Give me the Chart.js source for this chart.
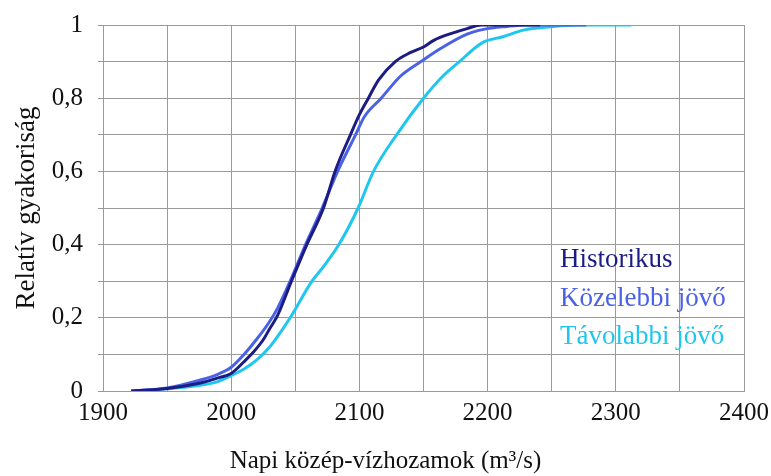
<!DOCTYPE html>
<html>
<head>
<meta charset="utf-8">
<script src="https://cdn.jsdelivr.net/npm/chart.js@4.4.1/dist/chart.umd.min.js"></script>
<style>
html, body { margin: 0; padding: 0; background: #fff; }
</style>
</head>
<body>
<canvas id="myChart" width="771" height="476"></canvas>
<script>
var seriesNames = ['Historikus', 'Közelebbi jövő', 'Távolabbi jövő'];
var seriesColors = ['#1c1c82', '#4a62e6', '#20c6ee'];

var histX = [1922, 1950, 1976, 1989, 2000, 2010, 2017, 2025, 2030, 2036, 2047, 2059, 2072, 2081, 2093, 2100, 2107, 2115, 2128, 2140, 2150, 2158, 2170, 2184, 2195, 2241];
var histY = [0, 0.007, 0.022, 0.035, 0.048, 0.08, 0.105, 0.14, 0.17, 0.205, 0.3, 0.4, 0.5, 0.6, 0.7, 0.755, 0.8, 0.85, 0.9, 0.925, 0.94, 0.958, 0.975, 0.99, 1, 1];

var kozelX = [1922, 1950, 1976, 1989, 2000, 2010, 2020, 2030, 2036, 2046, 2058, 2071, 2083, 2097, 2104, 2117, 2132, 2148, 2163, 2184, 2197, 2215, 2230, 2277];
var kozelY = [0, 0.008, 0.03, 0.045, 0.065, 0.1, 0.142, 0.19, 0.225, 0.3, 0.4, 0.5, 0.6, 0.7, 0.75, 0.8, 0.86, 0.9, 0.935, 0.975, 0.988, 0.996, 1, 1];

var tavX = [1925, 1950, 1976, 1989, 2000, 2010, 2020, 2030, 2036, 2046, 2063, 2072, 2084, 2099, 2111, 2129, 2150, 2165, 2178, 2196, 2212, 2228, 2249, 2270, 2312];
var tavY = [0, 0.006, 0.016, 0.025, 0.042, 0.06, 0.085, 0.12, 0.148, 0.2, 0.3, 0.34, 0.4, 0.5, 0.6, 0.7, 0.8, 0.86, 0.9, 0.952, 0.968, 0.986, 0.995, 1, 1];

var xLabels = [1900, 2000, 2100, 2200, 2300, 2400];
var yLabels = [0, 0.2, 0.4, 0.6, 0.8, 1];

function toPoints(xs, ys) {
    return xs.map(function(x, i) { return { x: x, y: ys[i] }; });
}

var allX = [histX, kozelX, tavX];
var allY = [histY, kozelY, tavY];

var serif = '"Liberation Serif", "Times New Roman", serif';
var gridColor = '#9a9a9a';

// legend drawn as coloured text inside the plot, no boxes
var textLegend = {
    id: 'textLegend',
    afterDatasetsDraw: function(chart) {
        var ctx = chart.ctx;
        var area = chart.chartArea;
        var x = area.left + 0.713 * (area.right - area.left);
        var y0 = area.top + 0.642 * (area.bottom - area.top);
        ctx.save();
        ctx.font = '27px ' + serif;
        ctx.textBaseline = 'middle';
        ctx.textAlign = 'left';
        chart.data.datasets.forEach(function(ds, i) {
            ctx.fillStyle = ds.borderColor;
            ctx.fillText(ds.label, x, y0 + i * 38.5);
        });
        ctx.restore();
    }
};

var options = {
    type: 'scatter',
    data: {
        datasets: seriesNames.map(function(name, i) {
            return {
                label: name,
                data: toPoints(allX[i], allY[i]),
                showLine: true,
                borderColor: seriesColors[i],
                backgroundColor: seriesColors[i],
                borderWidth: 3,
                pointRadius: 0,
                cubicInterpolationMode: 'monotone'
            };
        })
    },
    options: {
        responsive: false,
        animation: false,
        layout: { padding: { top: 25 } },
        plugins: {
            legend: { display: false },
            tooltip: { enabled: false },
            title: {
                display: true,
                position: 'bottom',
                text: 'Napi közép-vízhozamok (m³/s)',
                color: '#111',
                font: { family: serif, size: 25, weight: 'normal', lineHeight: 1.2 },
                padding: { top: 6, bottom: 0 }
            }
        },
        scales: {
            x: {
                type: 'linear',
                min: 1900,
                max: 2400,
                afterFit: function(s) {
                    s.height = 49;
                    s.paddingLeft = 0;
                    s.paddingRight = 27;
                },
                border: { color: gridColor },
                grid: { color: gridColor, drawTicks: false },
                ticks: {
                    stepSize: 50,
                    autoSkip: false,
                    maxRotation: 0,
                    padding: 7,
                    color: '#111',
                    font: { family: serif, size: 25 },
                    callback: function(v) {
                        return xLabels.indexOf(Math.round(v)) >= 0 ? String(Math.round(v)) : '';
                    }
                }
            },
            y: {
                min: 0,
                max: 1,
                afterFit: function(s) {
                    s.width = 103;
                    s.paddingTop = 0;
                    s.paddingBottom = 0;
                },
                border: { color: gridColor },
                grid: { color: gridColor, tickLength: 5 },
                title: {
                    display: true,
                    text: 'Relatív gyakoriság',
                    color: '#111',
                    font: { family: serif, size: 27, lineHeight: 1.2 },
                    padding: { top: 11, bottom: 0 }
                },
                ticks: {
                    stepSize: 0.1,
                    autoSkip: false,
                    padding: 15,
                    color: '#111',
                    font: { family: serif, size: 25 },
                    callback: function(v) {
                        var hit = yLabels.some(function(t) { return Math.abs(t - v) < 1e-6; });
                        if (!hit) return '';
                        return (Math.round(v * 10) / 10).toString().replace('.', ',');
                    }
                }
            }
        }
    },
    plugins: [textLegend]
};

var ctx = document.getElementById('myChart');
var chart = new Chart(ctx, options);
</script>
</body>
</html>
